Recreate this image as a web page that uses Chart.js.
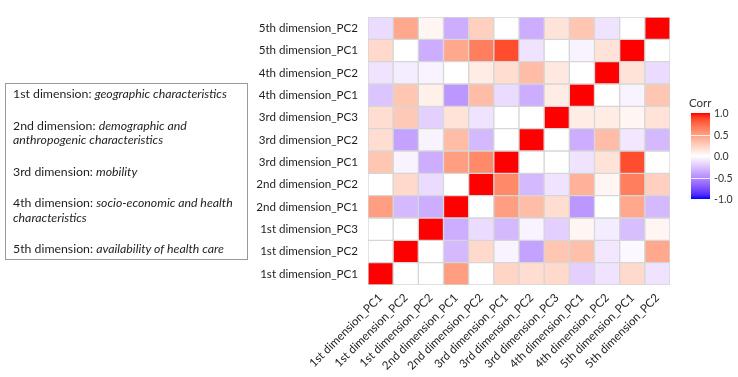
<!DOCTYPE html>
<html>
<head>
<meta charset="utf-8">
<script src="https://cdn.jsdelivr.net/npm/chart.js@4.4.1/dist/chart.umd.min.js"></script>
<style>
  body { margin: 0; background: #fff; }
  #wrap { position: relative; width: 738px; height: 377px; font-family: Lato, sans-serif; color: #1e1e1e; }
  #wrap canvas { position: absolute; left: 0; top: 0; }
  .notes { position: absolute; left: 5px; top: 83px; width: 243px; height: 177px; border: 1px solid #9a9a9a;
           box-sizing: border-box; padding: 3px 0 0 7px; font-size: 12.3px; line-height: 14.5px; }
  .notes p { margin: 0 0 17px 0; }
  .notes i { font-style: italic; }
  .legend { position: absolute; left: 689px; top: 96px; font-size: 11.5px; color: #333; }
  .legend .bar { position: absolute; left: 2px; top: 17px; width: 19px; height: 86px; }
  .legend .tick { position: absolute; left: 2px; width: 19px; height: 1px; background: rgba(255,255,255,.8); }
  .legend .lab { position: absolute; left: 25px; font-size: 10.5px; line-height: 12px; }
</style>
</head>
<body>
<div id="wrap">
  <canvas id="corr-chart" width="738" height="377"></canvas>
  <div class="notes">
    <p>1st dimension: <i>geographic characteristics</i></p>
    <p>2nd dimension: <i>demographic and anthropogenic characteristics</i></p>
    <p>3rd dimension: <i>mobility</i></p>
    <p>4th dimension: <i>socio-economic and health characteristics</i></p>
    <p>5th dimension: <i>availability of health care</i></p>
  </div>
  <div class="legend" id="legend">
    <div>Corr</div>
    <div class="bar" id="legend-bar"></div>
  </div>
</div>
<script>
Chart.defaults.font.family = 'Lato, sans-serif';
Chart.defaults.font.size = 11.6;
Chart.defaults.color = '#1e1e1e';

// rows, bottom to top
const rowLabels = [
  '1st dimension_PC1', '1st dimension_PC2', '1st dimension_PC3',
  '2nd dimension_PC1', '2nd dimension_PC2',
  '3rd dimension_PC1', '3rd dimension_PC2', '3rd dimension_PC3',
  '4th dimension_PC1', '4th dimension_PC2',
  '5th dimension_PC1', '5th dimension_PC2'
];
// columns, left to right (as printed in the figure)
const colLabels = [
  '1st dimension_PC1', '1st dimension_PC2', '1st dimension_PC2',
  '2nd dimension_PC1', '2nd dimension_PC2',
  '3rd dimension_PC1', '3rd dimension_PC2', '3rd dimension_PC3',
  '4th dimension_PC1', '4th dimension_PC2',
  '5th dimension_PC1', '5th dimension_PC2'
];
const corrValues = [
  [1, 0, 0, 0.5, 0, 0.22, 0.18, 0.2, -0.2, -0.12, 0.2, -0.12],
  [0, 1, 0, -0.3, 0.2, -0.05, -0.4, 0.3, 0.33, -0.1, -0.03, 0.45],
  [0, 0, 1, -0.35, -0.15, -0.3, -0.05, -0.2, 0.05, -0.08, -0.28, 0.05],
  [0.5, -0.3, -0.35, 1, 0, 0.5, 0.35, 0.18, -0.45, 0, 0.45, -0.3],
  [0, 0.2, -0.15, 0, 1, 0.6, -0.3, -0.12, 0.4, 0.05, 0.65, 0.25],
  [0.3, -0.05, -0.35, 0.5, 0.6, 1, 0, 0, -0.12, 0.15, 0.85, 0],
  [0.18, -0.4, -0.05, 0.35, -0.3, 0, 1, 0, -0.35, 0.35, -0.1, -0.3],
  [0.18, 0.28, -0.2, 0.15, -0.12, 0, 0, 1, 0.1, 0.1, 0.05, 0.15],
  [-0.25, 0.3, 0.08, -0.45, 0.35, -0.15, -0.35, 0.1, 1, 0, -0.05, 0.3],
  [-0.12, -0.08, -0.05, 0, 0.1, 0.18, 0.35, 0.12, 0, 1, 0.15, -0.15],
  [0.2, 0, -0.35, 0.45, 0.65, 0.85, -0.12, 0, -0.05, 0.15, 1, 0],
  [-0.15, 0.45, 0.05, -0.35, 0.25, 0, -0.35, 0.15, 0.3, -0.12, 0, 1]
];
const legendTicks = [1, 0.5, 0, -0.5, -1];

// ── colour scale: blue / white / red, mixed in Lab like ggplot ──
function toLab([r, g, b]) {
  const lin = c => { c /= 255; return c > 0.04045 ? Math.pow((c + 0.055) / 1.055, 2.4) : c / 12.92; };
  const R = lin(r), G = lin(g), B = lin(b);
  let x = (R * 0.4124 + G * 0.3576 + B * 0.1805) / 0.95047;
  let y = (R * 0.2126 + G * 0.7152 + B * 0.0722);
  let z = (R * 0.0193 + G * 0.1192 + B * 0.9505) / 1.08883;
  const f = t => t > 0.008856 ? Math.cbrt(t) : 7.787 * t + 16 / 116;
  x = f(x); y = f(y); z = f(z);
  return [116 * y - 16, 500 * (x - y), 200 * (y - z)];
}
function fromLab([L, a, bb]) {
  let y = (L + 16) / 116, x = a / 500 + y, z = y - bb / 200;
  const fi = t => t ** 3 > 0.008856 ? t ** 3 : (t - 16 / 116) / 7.787;
  x = fi(x) * 0.95047; y = fi(y); z = fi(z) * 1.08883;
  let R = x * 3.2406 + y * -1.5372 + z * -0.4986;
  let G = x * -0.9689 + y * 1.8758 + z * 0.0415;
  let B = x * 0.0557 + y * -0.2040 + z * 1.0570;
  const g = c => { c = c > 0.0031308 ? 1.055 * Math.pow(c, 1 / 2.4) - 0.055 : 12.92 * c; return Math.round(Math.min(1, Math.max(0, c)) * 255); };
  return `rgb(${g(R)},${g(G)},${g(B)})`;
}
const labWhite = toLab([255, 255, 255]), labRed = toLab([255, 0, 0]), labBlue = toLab([0, 0, 255]);
function corrColor(v) {
  const end = v >= 0 ? labRed : labBlue, t = Math.min(1, Math.abs(v));
  return fromLab(labWhite.map((w, i) => w + (end[i] - w) * t));
}

// ── legend colour bar ──
const bar = document.getElementById('legend-bar');
const stops = [];
for (let i = 0; i <= 20; i++) stops.push(`${corrColor(1 - i / 10)} ${i * 5}%`);
bar.style.background = `linear-gradient(to bottom, ${stops.join(',')})`;
const legend = document.getElementById('legend');
legendTicks.forEach(t => {
  const top = 17 + (1 - t) / 2 * 86;
  if (Math.abs(t) < 1) {
    const tk = document.createElement('div');
    tk.className = 'tick'; tk.style.top = top + 'px';
    legend.appendChild(tk);
  }
  const lab = document.createElement('div');
  lab.className = 'lab'; lab.style.top = (top - 6) + 'px';
  lab.textContent = t.toFixed(1);
  legend.appendChild(lab);
});

// ── heatmap: one floating-bar dataset per row ──
const datasets = corrValues.map((row, r) => ({
  label: rowLabels[r],
  data: row.map(() => [r - 0.5, r + 0.5]),
  backgroundColor: row.map(corrColor),
  borderColor: '#d6d6d6',
  borderWidth: 1,
  borderSkipped: false,
  barPercentage: 1,
  categoryPercentage: 1,
  grouped: false
}));

new Chart(document.getElementById('corr-chart'), {
  type: 'bar',
  data: { labels: colLabels, datasets },
  options: {
    responsive: false,
    animation: false,
    layout: { padding: { left: 250, right: 68, top: 12, bottom: 0 } },
    plugins: { legend: { display: false }, tooltip: { enabled: false } },
    scales: {
      x: {
        grid: { display: false, drawTicks: false },
        border: { display: false },
        ticks: { maxRotation: 45, minRotation: 45, padding: 6, autoSkip: false },
        afterFit: s => { s.height = 92; }
      },
      y: {
        min: -0.5, max: 11.5,
        grid: { display: false, drawTicks: false },
        border: { display: false },
        ticks: { padding: 10, callback: v => rowLabels[v] ?? '' },
        afterBuildTicks: s => { s.ticks = rowLabels.map((_, i) => ({ value: i })); },
        afterFit: s => { s.width = 118; }
      }
    }
  }
});
</script>
</body>
</html>
